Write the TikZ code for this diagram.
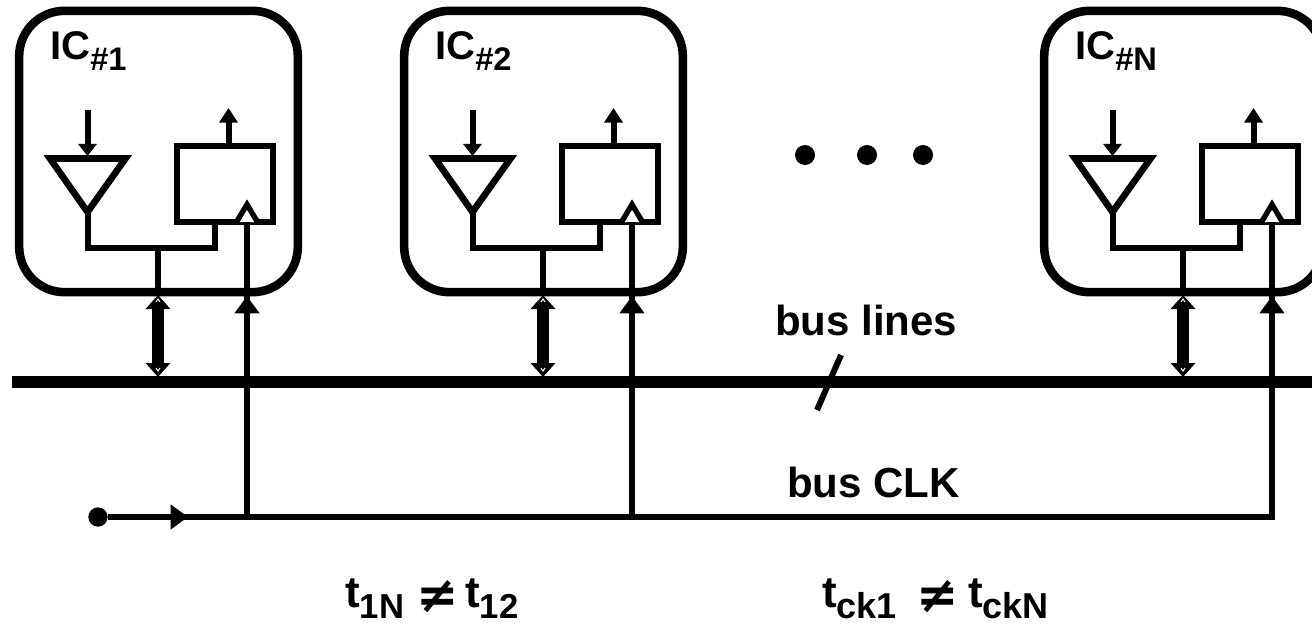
\documentclass[tikz,border=0pt]{standalone}
\usepackage{fontspec}
\setmainfont{Liberation Sans}
\newfontfamily\symfont{DejaVu Sans}
\usetikzlibrary{arrows.meta}
\usetikzlibrary{positioning}

\newcommand{\lblsub}[2]{{\fontsize{#2}{#2}\selectfont\raisebox{-0.33em}{#1}}}

\begin{document}
\begin{tikzpicture}[x=0.75pt,y=-0.75pt]
	\tikzset{icbox/.style = {shape=rectangle,draw,line width=6.4pt,rounded corners=34pt,
			minimum width=209pt,minimum height=211pt,inner sep=0pt}}
	\tikzset{regbox/.style = {shape=rectangle,draw,line width=4.5pt,
			minimum width=72pt,minimum height=57pt,inner sep=0pt}}
	\tikzset{wire/.style = {line width=4.5pt}}
	\tikzset{edgein/.style = {wire,-{Triangle[width=13.5pt,length=9pt]}}}
	\tikzset{edgeout/.style = {wire,-{Triangle[width=13.5pt,length=11pt]}}}
	\tikzset{edgebig/.style = {wire,-{Triangle[width=18pt,length=13pt]}}}
	\tikzset{edgebi/.style = {line width=8.5pt,{Triangle[width=18pt,length=10.5pt]}-{Triangle[width=18pt,length=10.5pt]}}}
	\tikzset{bigdot/.style = {shape=circle,fill,minimum size=15pt,inner sep=0pt}}
	\tikzset{smalldot/.style = {shape=circle,fill,minimum size=14.5pt,inner sep=0pt}}
	\tikzset{lbl/.style = {font=\fontsize{31.5pt}{31.5pt}\selectfont\bfseries,inner sep=0pt,anchor=base west}}
	\tikzset{lblic/.style = {font=\fontsize{30pt}{30pt}\selectfont\bfseries,inner sep=0pt,anchor=base west}}
	\tikzset{lblt/.style = {font=\fontsize{33pt}{33pt}\selectfont\bfseries,inner sep=0pt,anchor=base west}}
	\tikzset{lblneq/.style = {font=\fontsize{38pt}{38pt}\selectfont\symfont\bfseries,inner sep=0pt}}

	\useasboundingbox (0,0) rectangle (1312,624);
	\clip (0,0) rectangle (1312,624);

	% bus
	\coordinate (busL) at (12,382);
	\coordinate (busR) at (1312,382);
	\draw[line width=9pt] (busL) -- (busR);
	\coordinate (slashA) at (817,410);
	\coordinate (slashB) at (841,355);
	\draw[wire] (slashA) -- (slashB);
	\node[lbl] (buslines) at (775,335) {bus lines};
	\node[lbl] (busclk) at (787,497) {bus CLK};

	% clock line
	\node[smalldot] (start) at (98,517) {};
	\coordinate (mid) at (188,517);
	\coordinate (endclk) at (1275,517);
	\draw[wire] (start) -- (endclk);
	\draw[edgebig] (start) -- (mid);

	% ICs
	\foreach \dx/\nm/\sub in {0/a/1,385/b/2,1025/c/N}
	{
		\node[icbox] (box\nm) at (\dx+158.5,151.5) {};
		\node[lblic] (ic\nm) at (\dx+50,60) {IC\lblsub{\#\sub}{24.5pt}};

		\node[regbox] (reg\nm) at (\dx+225,184) {};
		\coordinate (triA\nm) at (\dx+50,158.5);
		\coordinate (triB\nm) at (\dx+125.5,158.5);
		\coordinate (triC\nm) at (\dx+87.5,212);
		\draw[line width=5pt] (triA\nm) -- (triB\nm) -- (triC\nm) -- cycle;

		\coordinate (ckA\nm) at (\dx+236.5,222);
		\coordinate (ckB\nm) at (\dx+247,204.5);
		\coordinate (ckC\nm) at (\dx+257.5,222);
		\fill[white] (ckA\nm) -- (ckB\nm) -- (ckC\nm) -- cycle;
		\draw[line width=4pt] (ckA\nm) -- (ckB\nm) -- (ckC\nm);

		%edges
		\coordinate (inA\nm) at (\dx+87.5,110);
		\coordinate (inB\nm) at (\dx+87.5,156);
		\draw[edgein] (inA\nm) -- (inB\nm);
		\coordinate (outA\nm) at (\dx+228.5,146);
		\coordinate (outB\nm) at (\dx+228.5,108);
		\draw[edgeout] (outA\nm) -- (outB\nm);

		\coordinate (jn\nm) at (\dx+215,222);
		\coordinate (dat\nm) at (\dx+157.5,248);
		\draw[wire,line join=miter] (triC\nm) |- (dat\nm) -| (jn\nm);
		\coordinate (datB\nm) at (\dx+157.5,292);
		\draw[wire] (dat\nm) -- (datB\nm);

		\coordinate (biA\nm) at (\dx+158,295);
		\coordinate (biB\nm) at (\dx+158,377);
		\draw[edgebi] (biA\nm) -- (biB\nm);
		\draw[white,line width=0.8pt] (\dx+156,302) -- (\dx+158,299) -- (\dx+160,302);
		\draw[white,line width=0.8pt] (\dx+156,368) -- (\dx+158,371) -- (\dx+160,368);

		\coordinate (ckIn\nm) at (\dx+247,222);
		\coordinate (ckBus\nm) at (\dx+247,517);
		\coordinate (ckTip\nm) at (\dx+247,296);
		\draw[wire] (ckIn\nm) -- (ckBus\nm);
		\draw[edgebig] (ckBus\nm) -- (ckTip\nm);
	}

	% dots
	\node[bigdot] (dotA) at (805,155) {};
	\node[bigdot] (dotB) at (867,155) {};
	\node[bigdot] (dotC) at (923,155) {};

	% formulas
	\node[lblt] (tA) at (345,607) {t\lblsub{1N}{26pt}};
	\node[lblt] (tB) at (465,607) {t\lblsub{12}{26pt}};
	\node[lblt] (tC) at (822,607) {t\lblsub{ck1}{27pt}};
	\node[lblt] (tD) at (968,607) {t\lblsub{ckN}{27pt}};
	\node[lblneq] (neqA) at (438,597) {≠};
	\node[lblneq] (neqB) at (938,597) {≠};
\end{tikzpicture}
\end{document}
